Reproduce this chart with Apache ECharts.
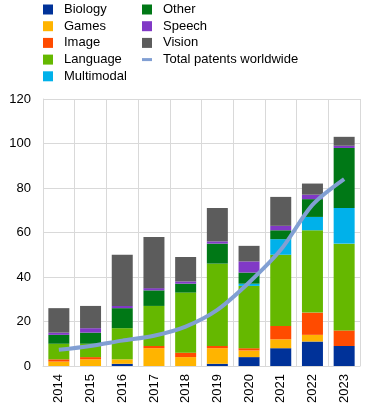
<!DOCTYPE html>
<html><head><meta charset="utf-8">
<script src="https://cdn.jsdelivr.net/npm/echarts@6/dist/echarts.min.js"></script>
<style>html,body{margin:0;padding:0;background:#fff}#c{width:371px;height:407px}</style>
</head><body><div id="c"></div>
<script>
const years = ['2014','2015','2016','2017','2018','2019','2020','2021','2022','2023'];
const biology    = [0, 0, 1, 0, 0, 1, 4, 8, 11, 9];
const games      = [2, 3, 2, 8, 4, 7, 3, 4, 3, 0];
const image      = [1, 1, 0, 1, 2, 1, 1, 6, 10, 7];
const language   = [7, 6, 14, 18, 27, 37, 28, 32, 37, 39];
const multimodal = [0, 0, 0, 0, 0, 0, 1, 7, 6, 16];
const other      = [4, 5, 9, 7, 4, 9, 5, 4, 8, 27];
const speech     = [1, 2, 1, 1, 1, 1, 5, 2, 2, 1];
const vision     = [11, 10, 23, 23, 11, 15, 7, 13, 5, 4];
const totalWorld = [7.3, 9, 11.4, 13.6, 17.7, 25.2, 37.5, 52.2, 72.4, 84];
const yTicks = [0, 20, 40, 60, 80, 100, 120];

const barSeries = [
  ['Biology', biology, '#003299'],
  ['Games', games, '#FFB400'],
  ['Image', image, '#FF4B00'],
  ['Language', language, '#65B800'],
  ['Multimodal', multimodal, '#00B1EA'],
  ['Other', other, '#007816'],
  ['Speech', speech, '#8139C6'],
  ['Vision', vision, '#5C5C5C']
].map(([n, d, c]) => ({
  name: n, type: 'bar', stack: 'a', data: d, barWidth: 21,
  itemStyle: {color: c}, emphasis: {disabled: true}
}));

const lineColor = '#819FD3';
const chart = echarts.init(document.getElementById('c'), null, {renderer: 'canvas'});
const legendText = {fontFamily: 'Liberation Sans, Arial, sans-serif', fontSize: 13, color: '#000', padding: [0,0,0,6]};
chart.setOption({
  animation: false,
  legend: [
    {orient: 'vertical', left: 43, top: 3, padding: 0, itemWidth: 10, itemHeight: 10, itemGap: 3.7,
     textStyle: legendText, selectedMode: false,
     data: ['Biology','Games','Image','Language','Multimodal'].map(n => ({name: n, icon: 'rect'}))},
    {orient: 'vertical', left: 142, top: 3, padding: 0, itemWidth: 10, itemHeight: 10, itemGap: 3.7,
     textStyle: legendText, selectedMode: false,
     data: ['Other','Speech','Vision'].map(n => ({name: n, icon: 'rect'})).concat([
       {name: 'Total patents worldwide', icon: 'path://M0,0 L10,0 L10,3 L0,3 Z'}])}
  ],
  grid: {left: 43, right: 11, top: 99, bottom: 41},
  xAxis: {
    type: 'category', data: years,
    axisLine: {lineStyle: {color: '#D9D9D9', width: 1}},
    axisTick: {show: false},
    splitLine: {show: true, lineStyle: {color: '#D9D9D9'}},
    axisLabel: {rotate: 90, color: '#000', fontFamily: 'Liberation Sans, Arial, sans-serif', fontSize: 13, margin: 8, interval: 0}
  },
  yAxis: {
    type: 'value', min: 0, max: 120, interval: 20,
    axisLine: {show: true, lineStyle: {color: '#D9D9D9'}},
    axisTick: {show: false},
    splitLine: {lineStyle: {color: '#D9D9D9'}},
    axisLabel: {color: '#000', fontFamily: 'Liberation Sans, Arial, sans-serif', fontSize: 13, margin: 12}
  },
  series: barSeries.concat([{
    name: 'Total patents worldwide', type: 'line', data: totalWorld, smooth: 0.3,
    symbol: 'none', lineStyle: {color: lineColor, width: 4}, itemStyle: {color: lineColor},
    emphasis: {disabled: true}, z: 5
  }])
});
</script></body></html>
